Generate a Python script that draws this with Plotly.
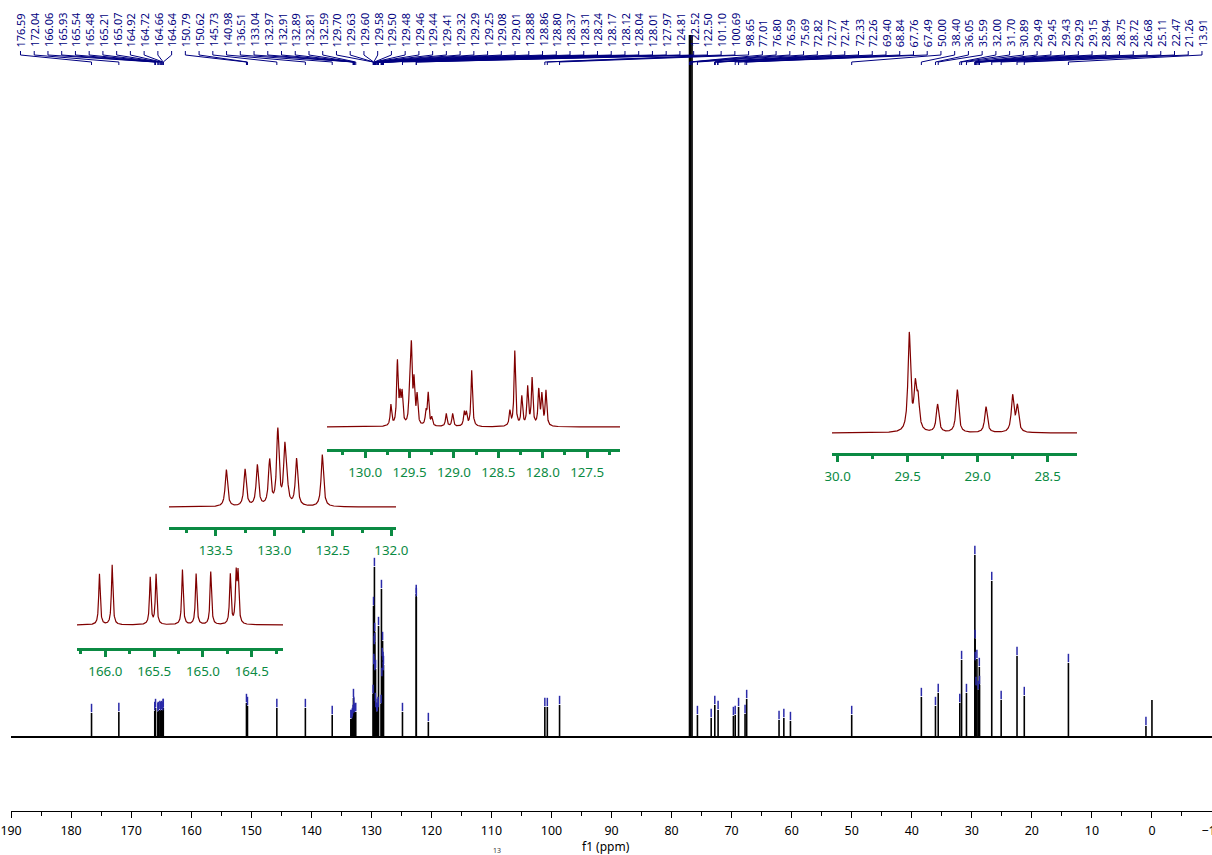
import numpy as np
import plotly.graph_objects as go

W, H = 1212, 855

# ---------------- data ----------------
peak_labels = [
    "176.59", "172.04", "166.06", "165.93", "165.54", "165.48", "165.21", "165.07", "164.92", "164.72", "164.66", "164.64",
    "150.79", "150.62", "145.73", "140.98", "136.51", "133.04", "132.97", "132.91", "132.89", "132.81", "132.59",
    "129.70", "129.63", "129.60", "129.58", "129.50", "129.48", "129.46", "129.44", "129.41", "129.32", "129.29", "129.25",
    "129.08", "129.01", "128.88", "128.86", "128.80", "128.37", "128.31", "128.24", "128.17", "128.12", "128.04", "128.01", "127.97",
    "124.81", "122.52", "122.50", "101.10", "100.69", "98.65", "77.01", "76.80", "76.59", "75.69",
    "72.82", "72.77", "72.74", "72.33", "72.26", "69.40", "68.84", "67.76", "67.49", "50.00",
    "38.40", "36.05", "35.59", "32.00", "31.70", "30.89", "29.49", "29.45", "29.43", "29.29", "29.15", "28.94", "28.75", "28.72",
    "26.68", "25.11", "22.47", "21.26", "13.91",
]

main_ppm = [176.59, 172.04, 166.06, 165.93, 165.54, 165.48, 165.21, 165.07, 164.92, 164.72, 164.66, 164.64,
            150.79, 150.62, 145.73, 140.98, 136.51,
            133.41, 133.25, 133.15, 133.04, 132.97, 132.91, 132.89, 132.81, 132.59,
            129.70, 129.63, 129.60, 129.58, 129.50, 129.48, 129.46, 129.44, 129.41, 129.32, 129.29, 129.25,
            129.08, 129.01, 128.88, 128.86, 128.80, 128.37, 128.31, 128.24, 128.17, 128.12, 128.04, 128.01, 127.97,
            124.81, 122.52, 122.50, 120.50, 101.10, 100.69, 98.65, 77.01, 76.80, 76.59, 75.69,
            73.40, 72.80, 72.25, 69.70, 69.40, 68.84, 67.76, 67.49, 62.10, 61.30, 60.20, 50.00,
            38.40, 36.05, 35.59, 32.00, 31.70, 30.89, 29.49, 29.45, 29.43, 29.29, 29.15, 28.94, 28.75, 28.72,
            26.68, 25.11, 22.47, 21.26, 13.91, 1.00, 0.00]
main_int = [24, 25, 26, 29, 25, 26, 27, 26, 27, 26, 29, 29,
            34, 31, 29, 29, 22,
            18, 18, 20, 23, 39, 31, 25, 24, 25,
            43, 131, 72, 74, 92, 170, 95, 105, 66, 35, 68, 29,
            25, 25, 31, 29, 111, 33, 148, 60, 80, 96, 76, 66, 72,
            25, 143, 140, 15, 30, 30, 32, 702, 702, 702, 22,
            19, 32, 27, 21, 22, 30, 23, 38, 17, 19, 16, 22,
            40, 31, 44, 34, 77, 44, 182, 98, 76, 51, 78, 47, 70, 52,
            156, 37, 81, 41, 74, 11, 37]

inset1_ppm = [166.06, 165.93, 165.54, 165.48, 165.21, 165.07, 164.92, 164.72, 164.66, 164.64]
inset1_int = [51, 60, 47, 50, 55, 51, 53, 50, 48, 48]

inset2_ppm = [133.41, 133.25, 133.145, 133.04, 132.97, 132.91, 132.89, 132.81, 132.59]
inset2_int = [37, 37, 41, 45, 75, 57, 15, 47, 52]

inset3_ppm = [129.71, 129.637, 129.607, 129.584, 129.50, 129.48, 129.45, 129.415, 129.315, 129.29, 129.25,
              129.087, 129.015, 128.884, 128.86, 128.80, 128.37, 128.315, 128.236, 128.17, 128.12,
              128.045, 128.01, 127.964]
inset3_int = [21, 63, 26, 30, 30, 75, 41, 29, 13, 32, 8,
              13, 13, 13.5, 12.5, 56, 14.6, 75, 29, 38.5, 47,
              35, 30, 35]

inset4_ppm = [29.488, 29.445, 29.425, 29.286, 29.145, 28.94, 28.75, 28.716]
inset4_int = [97.5, 41.8, 28.9, 28, 43, 26, 36.2, 25.6]

# ---------------- style ----------------
NAVY = "#000080"
GREEN = "#0b8a43"
DRED = "#800000"
FONT = "Noto Sans"


def px_x(p):
    return p / W


def px_y(p):
    return 1 - p / H


def lorentz(grid, centers, heights, hw):
    g = np.asarray(grid)[:, None]
    c = np.asarray(centers)[None, :]
    h = np.asarray(heights)[None, :]
    return (h / (1 + ((g - c) / hw) ** 2)).sum(axis=1)


fig = go.Figure()

# main spectrum: baseline + peak sticks
fig.add_trace(go.Scatter(x=[190, -10], y=[0, 0], mode="lines",
                         line=dict(color="black", width=2), hoverinfo="skip", showlegend=False))
sx, sy = [], []
for p, h in zip(main_ppm, main_int):
    sx += [p, p, None]
    sy += [0, h, None]
fig.add_trace(go.Scatter(x=sx, y=sy, mode="lines", line=dict(color="black", width=1.6),
                         hoverinfo="skip", showlegend=False))

# peak pick markers
mx = [p for p, h in zip(main_ppm, main_int) if h < 600 and p > 0.5]
my = [h + 5 for p, h in zip(main_ppm, main_int) if h < 600 and p > 0.5]
fig.add_trace(go.Scatter(x=mx, y=my, mode="markers",
                         marker=dict(symbol="line-ns", size=6, line=dict(color="#2a2aa8", width=1.5)),
                         hoverinfo="skip", showlegend=False))

# peak label connectors
lab_x = np.linspace(188.42, -8.33, len(peak_labels))
cx, cy = [], []
for lx, lab in zip(lab_x, peak_labels):
    v = float(lab)
    cx += [lx, lx, v, v, None]
    cy += [737 - 51, 737 - 55, 737 - 62, 737 - 65, None]
fig.add_trace(go.Scatter(x=cx, y=cy, mode="lines", line=dict(color=NAVY, width=1),
                         hoverinfo="skip", showlegend=False))

annotations = []
for lx, lab in zip(lab_x, peak_labels):
    annotations.append(dict(x=lx, y=737 - 48, xref="x", yref="y", text=lab, textangle=-90,
                            showarrow=False, xanchor="center", yanchor="bottom", borderpad=0,
                            font=dict(family=FONT, size=10.9, color=NAVY)))

# insets
insets = [
    dict(ppm=inset1_ppm, inten=inset1_int, xd=(77, 283), yd=(648, 555), xr=(166.29, 164.18), base=625, hw=0.009),
    dict(ppm=inset2_ppm, inten=inset2_int, xd=(169, 396), yd=(527, 420), xr=(133.90, 131.96), base=507, hw=0.012),
    dict(ppm=inset3_ppm, inten=inset3_int, xd=(327, 620), yd=(449, 330), xr=(130.43, 127.13), base=427, hw=0.010),
    dict(ppm=inset4_ppm, inten=inset4_int, xd=(832, 1077), yd=(453, 325), xr=(30.04, 28.29), base=433, hw=0.011),
]

layout_axes = {}
for k, ins in enumerate(insets, start=2):
    grid = np.linspace(ins["xr"][0], ins["xr"][1], 3000)
    curve = lorentz(grid, ins["ppm"], ins["inten"], ins["hw"])
    fig.add_trace(go.Scatter(x=grid, y=curve, mode="lines", line=dict(color=DRED, width=1.2),
                             xaxis=f"x{k}", yaxis=f"y{k}", hoverinfo="skip", showlegend=False))
    axis_px, top_px = ins["yd"]
    layout_axes[f"xaxis{k}"] = dict(
        domain=[px_x(ins["xd"][0]), px_x(ins["xd"][1])], range=list(ins["xr"]), anchor=f"y{k}",
        showgrid=False, zeroline=False, showline=True, linecolor=GREEN, linewidth=3,
        ticks="outside", ticklen=6, tickwidth=2.5, tickcolor=GREEN, dtick=0.5, tick0=0,
        tickformat=".1f", ticklabelstandoff=3, automargin=False,
        tickfont=dict(family=FONT, size=13.3, color=GREEN),
        minor=dict(dtick=0.25, ticklen=3, tickwidth=2.5, tickcolor=GREEN, ticks="outside"),
    )
    layout_axes[f"yaxis{k}"] = dict(
        domain=[px_y(axis_px), px_y(top_px)], range=[-(axis_px - ins["base"]), ins["base"] - top_px],
        anchor=f"x{k}", visible=False, automargin=False,
    )

annotations.append(dict(x=0.5, y=px_y(846), xref="paper", yref="paper", text="f1 (ppm)",
                        showarrow=False, xanchor="center", yanchor="middle", borderpad=0,
                        font=dict(family=FONT, size=12, color="black")))
annotations.append(dict(x=px_x(497), y=px_y(850), xref="paper", yref="paper", text="13",
                        showarrow=False, xanchor="center", yanchor="middle", borderpad=0,
                        font=dict(family=FONT, size=7, color="#333")))

fig.update_layout(
    width=W, height=H, margin=dict(l=0, r=0, t=0, b=0, pad=0), autosize=False,
    paper_bgcolor="white", plot_bgcolor="rgba(0,0,0,0)",
    showlegend=False,
    xaxis=dict(domain=[px_x(11), 1], range=[190, -10], showgrid=False, zeroline=False,
               showline=True, linecolor="black", linewidth=1, ticks="outside", ticklen=6,
               tickcolor="black", dtick=10, tick0=0, ticklabeloverflow="allow",
               ticklabelstandoff=2, automargin=False,
               tickfont=dict(family=FONT, size=12.4, color="black"),
               minor=dict(dtick=5, ticklen=4, tickcolor="black", ticks="outside")),
    yaxis=dict(domain=[px_y(811), 1], range=[-74, 737], visible=False, automargin=False),
    annotations=annotations,
    **layout_axes,
)

fig.write_html("out.html", config={"displayModeBar": False},
               post_script="document.body.style.margin='0px';")
